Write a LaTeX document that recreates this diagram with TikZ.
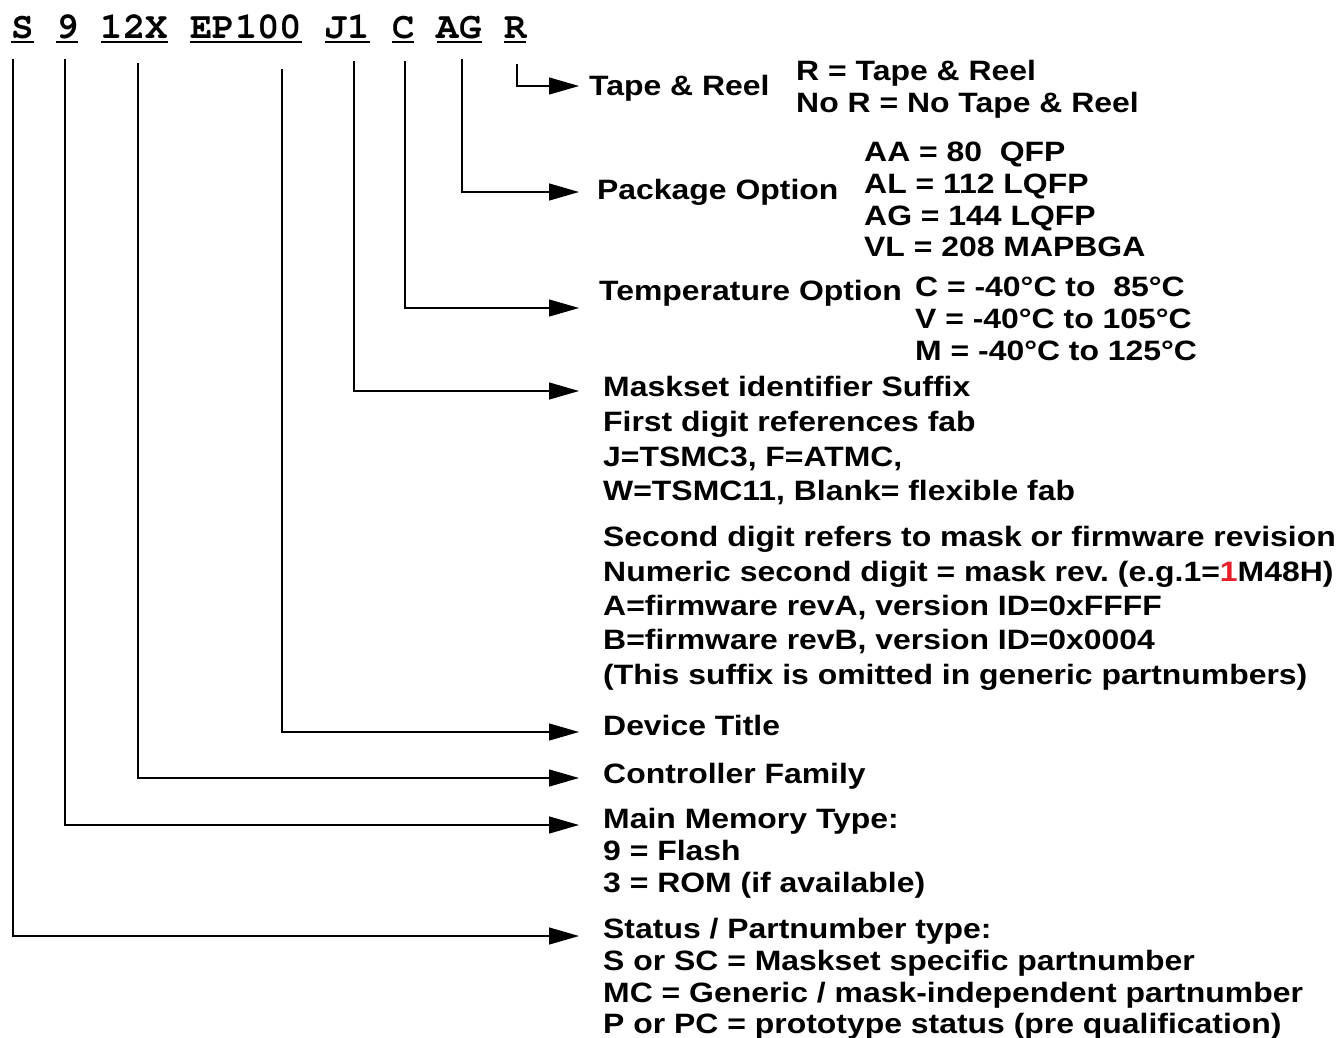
\documentclass[tikz,border=0pt]{standalone}
\usepackage{fontspec}
\setmainfont{Liberation Sans}[FakeStretch=1.14]
\newfontfamily\hdrfont{texgyrecursor-bold.otf}
\usetikzlibrary{arrows.meta}
\definecolor{hred}{RGB}{232,30,40}
\newcommand\ultok[1]{\setbox0\hbox{#1}\rlap{\rule[-4.5pt]{\wd0}{1.6pt}}\box0}
\frenchspacing
\begin{document}
\begin{tikzpicture}[x=1pt,y=-1pt,
  lab/.style={anchor=base west,inner sep=0pt,font=\fontsize{28}{32}\selectfont\bfseries},
  tok/.style={anchor=base west,inner sep=0pt,font=\hdrfont\fontsize{37.33}{40}\selectfont},
  conn/.style={line width=1.2pt,-{Triangle[length=30pt,width=17pt]}},
]
\useasboundingbox (0,0) rectangle (1342,1037);

% header tokens
\node[tok] (tS)  at (11,38)    {\ultok{S}};
\node[tok] (t9)  at (55.8,38)  {\ultok{9}};
\node[tok] (t12) at (100.6,38) {\ultok{12X}};
\node[tok] (tEP) at (190.2,38) {\ultok{EP100}};
\node[tok] (tJ)  at (324.6,38) {\ultok{J1}};
\node[tok] (tC)  at (391.8,38) {\ultok{C}};
\node[tok] (tAG) at (436.6,38) {\ultok{AG}};
\node[tok] (tR)  at (503.8,38) {\ultok{R}};

% connector starts
\coordinate (cS)  at (13,59);
\coordinate (c9)  at (65,59);
\coordinate (c12) at (138,63);
\coordinate (cEP) at (282,69);
\coordinate (cJ)  at (354,61);
\coordinate (cC)  at (405,61);
\coordinate (cAG) at (462,59);
\coordinate (cR)  at (517,64);

% arrow tips
\coordinate (aR)  at (579,86);
\coordinate (aAG) at (579,192);
\coordinate (aC)  at (579,308);
\coordinate (aJ)  at (579,391);
\coordinate (aEP) at (579,732);
\coordinate (a12) at (579,778);
\coordinate (a9)  at (579,825);
\coordinate (aS)  at (579,936);

\draw[conn] (cR)  |- (aR);
\draw[conn] (cAG) |- (aAG);
\draw[conn] (cC)  |- (aC);
\draw[conn] (cJ)  |- (aJ);
\draw[conn] (cEP) |- (aEP);
\draw[conn] (c12) |- (a12);
\draw[conn] (c9)  |- (a9);
\draw[conn] (cS)  |- (aS);

% Tape & Reel
\node[lab] (lR)  at (589,95)  {Tape \& Reel};
\node[lab] (lR1) at (796,80)  {R = Tape \& Reel};
\node[lab] (lR2) at (796,112) {No R = No Tape \& Reel};

% Package
\node[lab] (lP)  at (597,199) {Package Option};
\node[lab] (lP1) at (864,161) {AA = 80\ \ QFP};
\node[lab] (lP2) at (864,193) {AL = 112 LQFP};
\node[lab] (lP3) at (864,225) {AG = 144 LQFP};
\node[lab] (lP4) at (864,256) {VL = 208 MAPBGA};

% Temperature
\node[lab] (lT)  at (599,300) {Temperature Option};
\node[lab] (lT1) at (915,296) {C = -40°C to\ \ 85°C};
\node[lab] (lT2) at (915,328) {V = -40°C to 105°C};
\node[lab] (lT3) at (915,360) {M = -40°C to 125°C};

% Maskset
\node[lab] (lM1) at (603,396) {Maskset identifier Suffix};
\node[lab] (lM2) at (603,431) {First digit references fab};
\node[lab] (lM3) at (603,466) {J=TSMC3, F=ATMC,};
\node[lab] (lM4) at (603,500) {W=TSMC11, Blank= flexible fab};
\node[lab] (lM5) at (603,546) {Second digit refers to mask or firmware revision};
\node[lab] (lM6) at (603,581) {Numeric second digit = mask rev. (e.g.1=\textcolor{hred}{1}M48H)};
\node[lab] (lM7) at (603,615) {A=firmware revA, version ID=0xFFFF};
\node[lab] (lM8) at (603,649) {B=firmware revB, version ID=0x0004};
\node[lab] (lM9) at (603,684) {(This suffix is omitted in generic partnumbers)};

% Device / Controller
\node[lab] (lD) at (603,735) {Device Title};
\node[lab] (lF) at (603,783) {Controller Family};

% Memory
\node[lab] (lMem1) at (603,828) {Main Memory Type:};
\node[lab] (lMem2) at (603,860) {9 = Flash};
\node[lab] (lMem3) at (603,892) {3 = ROM (if available)};

% Status
\node[lab] (lS1) at (603,938)  {Status / Partnumber type:};
\node[lab] (lS2) at (603,970)  {S or SC = Maskset specific partnumber};
\node[lab] (lS3) at (603,1002) {MC = Generic / mask-independent partnumber};
\node[lab] (lS4) at (603,1033) {P or PC = prototype status (pre qualification)};
\end{tikzpicture}
\end{document}
